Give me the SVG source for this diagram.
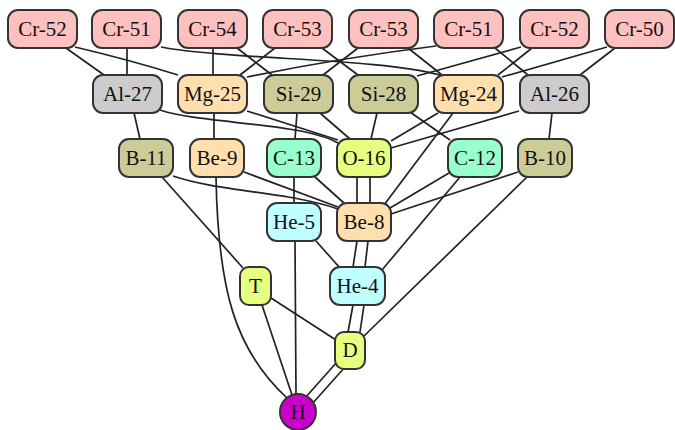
<svg xmlns="http://www.w3.org/2000/svg" width="675" height="430" viewBox="0 0 675 430">
<style>
.n rect, .n circle { stroke: #333; stroke-width: 2; }
.n text { font-family: "Liberation Serif", "Times New Roman", serif; font-size: 21px; fill: #111; text-anchor: middle; }
.cr { fill: #ffc0c0; }
.al { fill: #cccccc; }
.mg { fill: #ffdfae; }
.si { fill: #cccc99; }
.c { fill: #99ffcc; }
.o { fill: #e6ff80; }
.he { fill: #c0ffff; }
.h { fill: #cc00cc; }
#edges path { fill: none; stroke: #222; stroke-width: 1.7; }
</style>
<rect width="675" height="430" fill="#ffffff"/>
<g id="edges">
<path d="M66,48 L104,75"/>
<path d="M75,47 Q130,60 178,75"/>
<path d="M127,48 L127,75"/>
<path d="M161,47 C230,60 380,58 440,75"/>
<path d="M213,48 L213,75"/>
<path d="M237,48 L272,75"/>
<path d="M275,48 L240,75"/>
<path d="M322,48 L358,75"/>
<path d="M358,48 L323,75"/>
<path d="M408,48 L442,75"/>
<path d="M436,46 Q340,58 247,77"/>
<path d="M495,48 L528,75"/>
<path d="M521,47 L417,76"/>
<path d="M532,48 L498,75"/>
<path d="M607,47 L502,77"/>
<path d="M615,48 L580,75"/>
<path d="M134,113 L140,139"/>
<path d="M160,110 C200,124 300,122 338,143"/>
<path d="M214,113 L214,139"/>
<path d="M247,111 L338,140"/>
<path d="M297,113 L295,139"/>
<path d="M320,113 L350,139"/>
<path d="M377,113 L371,139"/>
<path d="M410,112 L450,140"/>
<path d="M438,113 L391,141"/>
<path d="M453,113 L384,205"/>
<path d="M519,111 L391,148"/>
<path d="M552,113 L549,139"/>
<path d="M173,176 C220,192 290,192 338,209"/>
<path d="M244,172 L338,207"/>
<path d="M315,177 L345,204"/>
<path d="M357,177 L357,203"/>
<path d="M370,177 L370,203"/>
<path d="M449,173 L390,208"/>
<path d="M518,172 L391,214"/>
<path d="M460,177 L382,270"/>
<path d="M527,177 L364,336"/>
<path d="M162,177 L243,268"/>
<path d="M216,177 C218,290 235,350 287,398"/>
<path d="M294,177 L294,203"/>
<path d="M295,241 L296,394"/>
<path d="M316,241 L340,268"/>
<path d="M357,241 L353,267"/>
<path d="M368,241 L365,267"/>
<path d="M262,305 L292,395"/>
<path d="M271,298 L336,340"/>
<path d="M353,305 L348,332"/>
<path d="M364,305 L360,332"/>
<path d="M337,362 L305,398"/>
<path d="M345,367 L312,404"/>
</g>
<g id="cr52a" class="n"><rect class="cr" x="8" y="10" width="69" height="38" rx="10"/><text x="42.5" y="36">Cr-52</text></g>
<g id="cr51a" class="n"><rect class="cr" x="92" y="10" width="69" height="38" rx="10"/><text x="126.5" y="36">Cr-51</text></g>
<g id="cr54" class="n"><rect class="cr" x="178" y="10" width="69" height="38" rx="10"/><text x="212.5" y="36">Cr-54</text></g>
<g id="cr53a" class="n"><rect class="cr" x="263" y="10" width="69" height="38" rx="10"/><text x="297.5" y="36">Cr-53</text></g>
<g id="cr53b" class="n"><rect class="cr" x="349" y="10" width="69" height="38" rx="10"/><text x="383.5" y="36">Cr-53</text></g>
<g id="cr51b" class="n"><rect class="cr" x="434" y="10" width="69" height="38" rx="10"/><text x="468.5" y="36">Cr-51</text></g>
<g id="cr52b" class="n"><rect class="cr" x="520" y="10" width="69" height="38" rx="10"/><text x="554.5" y="36">Cr-52</text></g>
<g id="cr50" class="n"><rect class="cr" x="605" y="10" width="69" height="38" rx="10"/><text x="639.5" y="36">Cr-50</text></g>
<g id="al27" class="n"><rect class="al" x="93" y="75" width="69" height="38" rx="10"/><text x="127.5" y="101">Al-27</text></g>
<g id="mg25" class="n"><rect class="mg" x="178" y="75" width="69" height="38" rx="10"/><text x="212.5" y="101">Mg-25</text></g>
<g id="si29" class="n"><rect class="si" x="264" y="75" width="69" height="38" rx="10"/><text x="298.5" y="101">Si-29</text></g>
<g id="si28" class="n"><rect class="si" x="349" y="75" width="69" height="38" rx="10"/><text x="383.5" y="101">Si-28</text></g>
<g id="mg24" class="n"><rect class="mg" x="434" y="75" width="69" height="38" rx="10"/><text x="468.5" y="101">Mg-24</text></g>
<g id="al26" class="n"><rect class="al" x="520" y="75" width="69" height="38" rx="10"/><text x="554.5" y="101">Al-26</text></g>
<g id="b11" class="n"><rect class="si" x="119" y="139" width="54" height="38" rx="10"/><text x="146" y="165">B-11</text></g>
<g id="be9" class="n"><rect class="mg" x="190" y="139" width="54" height="38" rx="10"/><text x="217" y="165">Be-9</text></g>
<g id="c13" class="n"><rect class="c" x="267" y="139" width="54" height="38" rx="10"/><text x="294" y="165">C-13</text></g>
<g id="o16" class="n"><rect class="o" x="337" y="139" width="54" height="38" rx="10"/><text x="364" y="165">O-16</text></g>
<g id="c12" class="n"><rect class="c" x="448" y="139" width="54" height="38" rx="10"/><text x="475" y="165">C-12</text></g>
<g id="b10" class="n"><rect class="si" x="518" y="139" width="54" height="38" rx="10"/><text x="545" y="165">B-10</text></g>
<g id="he5" class="n"><rect class="he" x="267" y="203" width="54" height="38" rx="10"/><text x="294" y="229">He-5</text></g>
<g id="be8" class="n"><rect class="mg" x="337" y="203" width="54" height="38" rx="10"/><text x="364" y="229">Be-8</text></g>
<g id="t" class="n"><rect class="o" x="240" y="267" width="31" height="38" rx="9"/><text x="255.5" y="293">T</text></g>
<g id="he4" class="n"><rect class="he" x="330" y="267" width="55" height="38" rx="10"/><text x="357.5" y="293">He-4</text></g>
<g id="d" class="n"><rect class="o" x="335" y="332" width="30" height="37" rx="9"/><text x="350" y="357">D</text></g>
<g id="h" class="n"><circle class="h" cx="298" cy="412" r="18"/><text x="298" y="419">H</text></g>
</svg>
